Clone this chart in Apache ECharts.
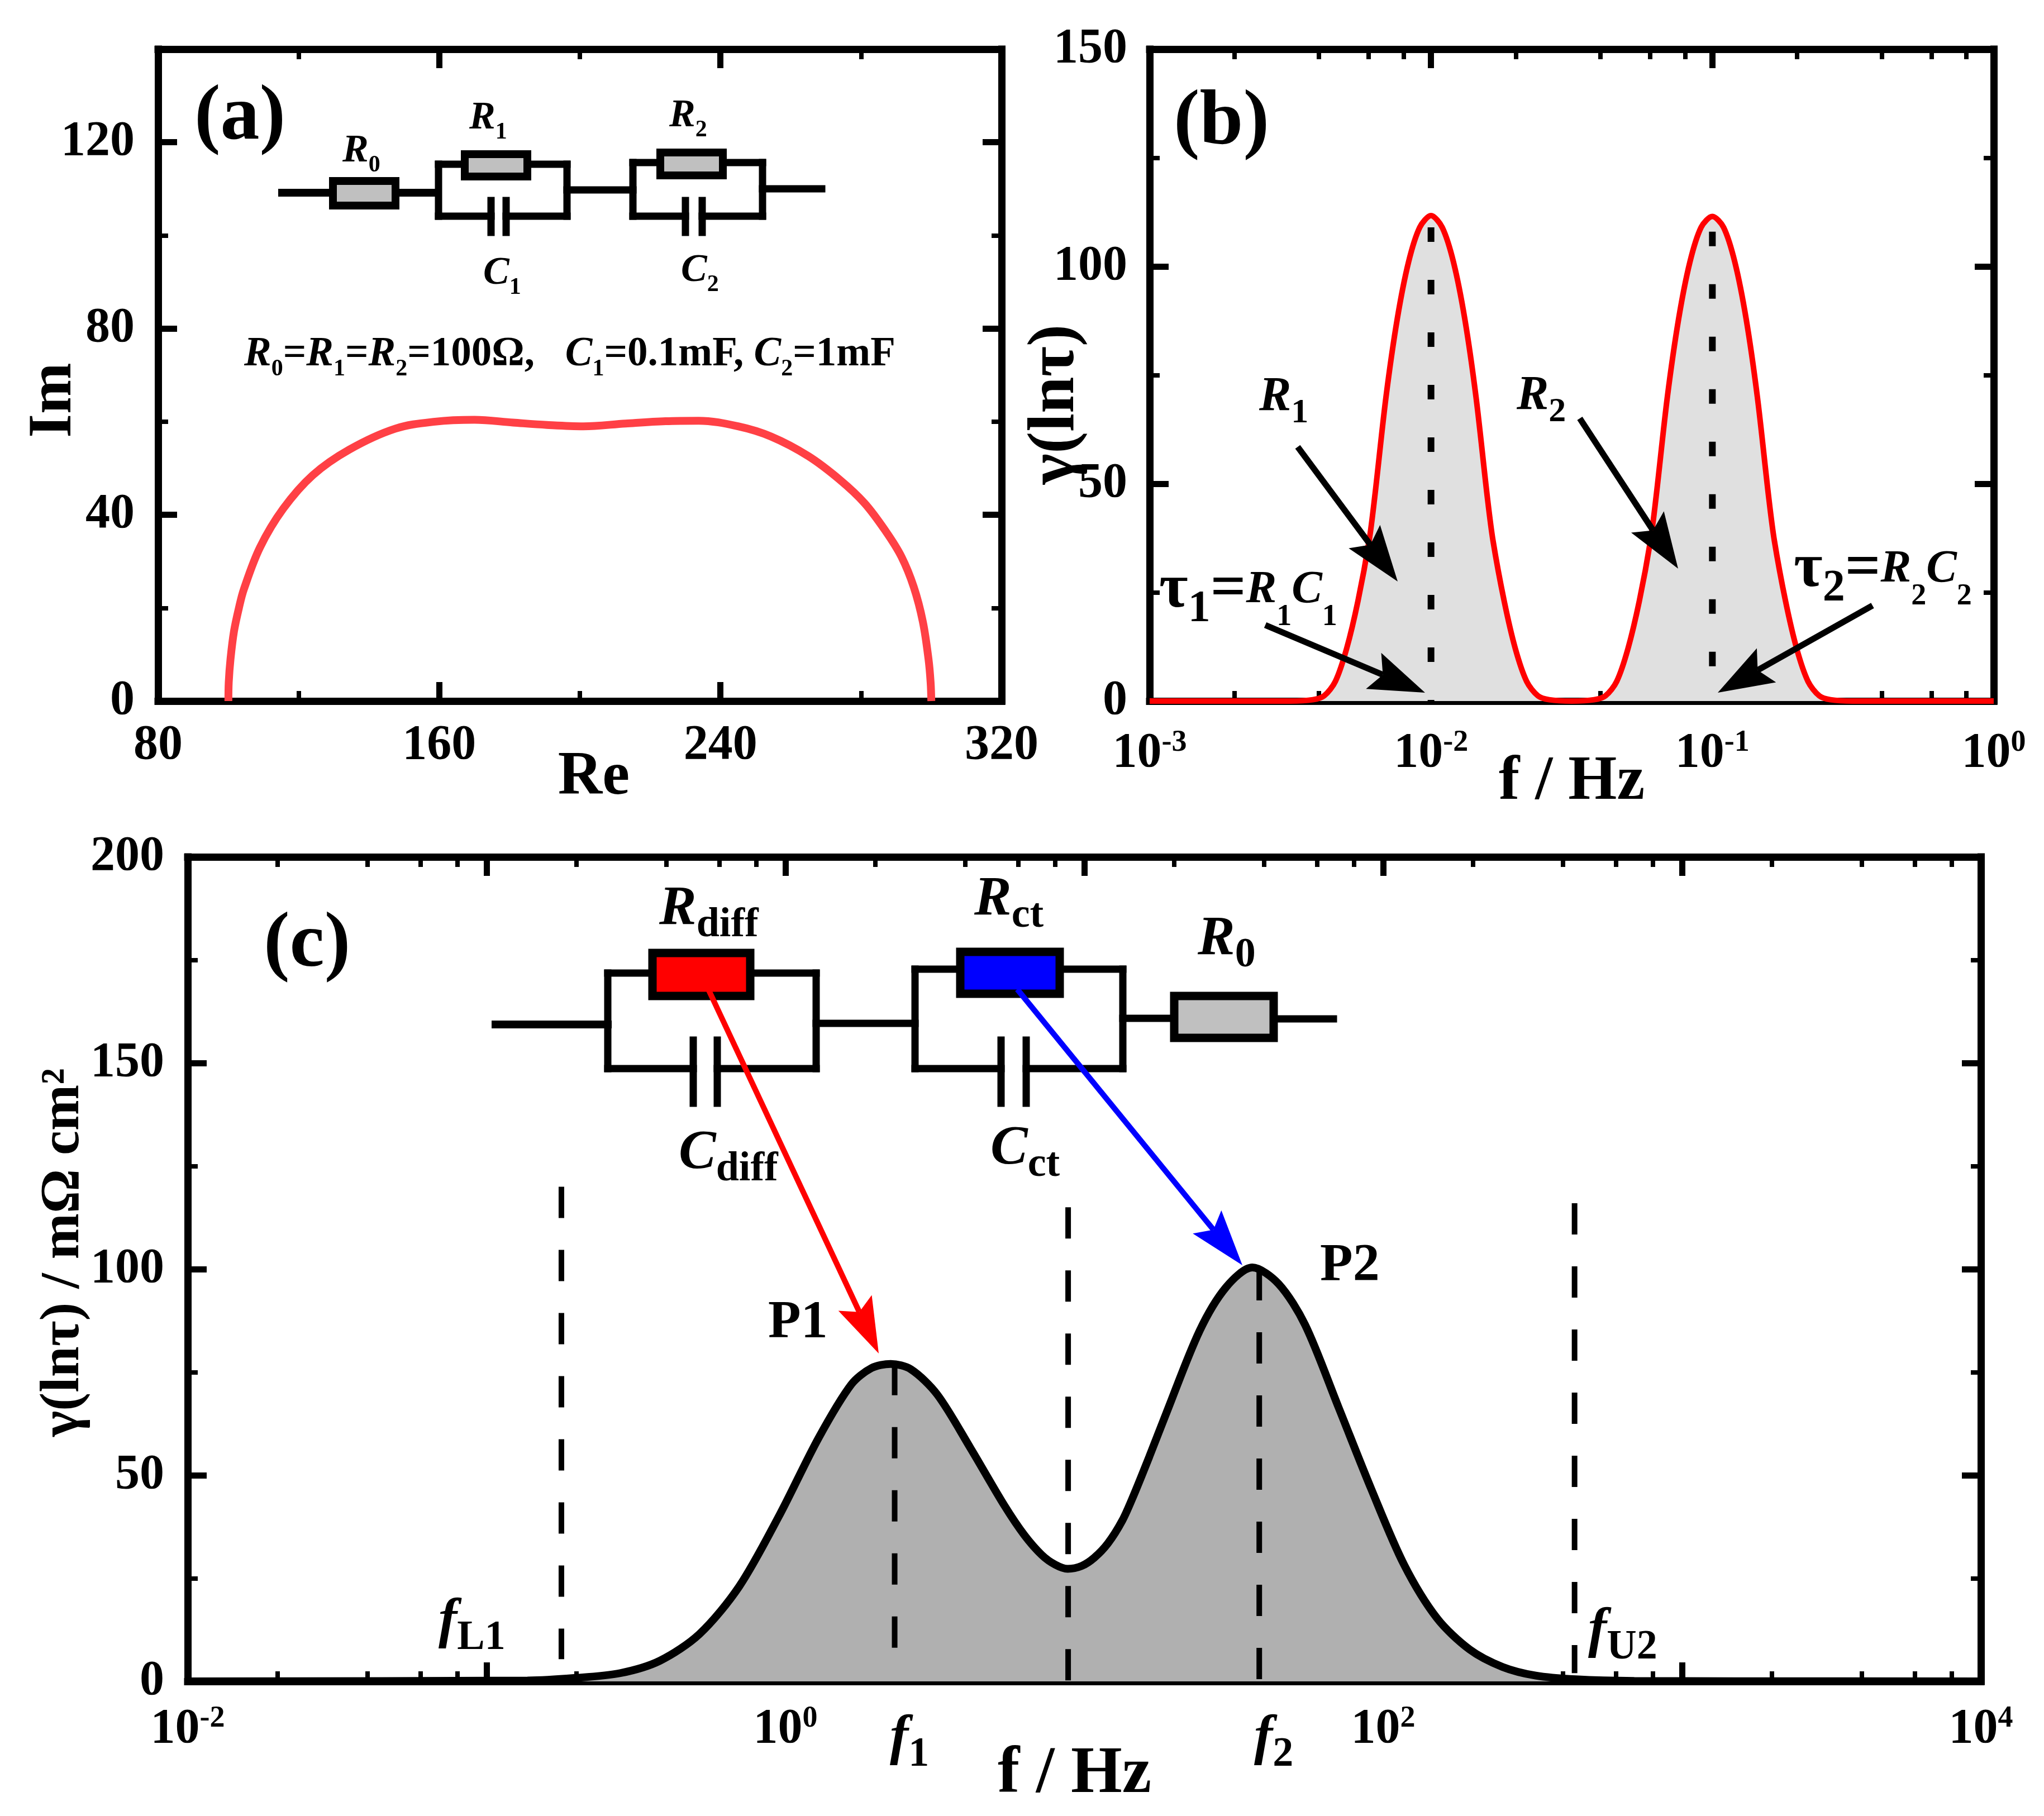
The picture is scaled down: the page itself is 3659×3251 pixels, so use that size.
<!DOCTYPE html>
<html><head><meta charset="utf-8">
<style>html,body{margin:0;padding:0;background:#fff}#c{width:3659px;height:3251px}</style>
<script src="https://cdn.jsdelivr.net/npm/echarts@6/dist/echarts.min.js"></script>
</head><body><div id="c"></div>
<script>
// ---- panel (a) Nyquist
const reA=[100,100.1,100.6,101.6,103,104.4,109,115.6,124,134.4,147.5,158.8,170,181,190.6,201,213,224.4,233.8,245,254.4,265,274,281,287,291.5,295,297.6,299.2,299.8,300];
const imA=[0,4,9,15,20,24,33,41.3,48.5,54,58.5,60,60.4,59.8,59.3,59,59.6,60.1,60.2,59,56.8,52.6,47.5,42.5,36.5,31,24.5,17,9,4,0];
// ---- panel (b) DRT of ideal circuit
const fB=[0.001,0.00316,0.0038,0.00417,0.00457,0.00501,0.0055,0.00603,0.00631,0.00692,0.00759,0.00832,0.00912,0.01,0.01096,0.01202,0.01318,0.01445,0.01585,0.0166,0.0182,0.01995,0.02188,0.02399,0.0263,0.03162,0.038,0.0417,0.0457,0.0501,0.055,0.0603,0.0631,0.0692,0.0759,0.0832,0.0912,0.1,0.1096,0.1202,0.1318,0.1445,0.1585,0.166,0.182,0.1995,0.2188,0.2399,0.263,0.3162,1];
const gB=[0,0,0.3,1.2,4.5,12,23,37,47,70,88,101,109,111.7,109,101,88,70,47,37,23,12,4.5,1.2,0.3,0,0.3,1.2,4.5,12,23,37,47,70,88,101,109,111.5,109,101,88,70,47,37,23,12,4.5,1.2,0.3,0,0];
const markF_B=[0.01,0.1];
const markTop_B=[109,108];
// ---- panel (c) DRT of cell
const fC=[0.01,0.137,0.196,0.28,0.38,0.516,0.70,0.95,1.29,1.66,1.94,2.25,2.63,3.22,4.16,5.4,6.3,7.2,8,8.8,9.8,10.8,12,13.4,14.6,16.5,18.8,24.3,29.8,36.5,44.7,54.8,70.8,91.2,117.5,151.5,195,251,324,441,692,1500,10000];
const gC=[0,0.2,0.8,2,5,11.5,23,40,59,72,76,77,75.7,69.6,56.6,42.7,35.5,30.7,28.3,27.3,28,30,33.5,39,45,54.5,65,85,95.6,100.4,96.4,86.5,66.6,46.7,28.3,15.3,7.7,3.5,1.4,0.5,0.1,0.05,0];
const markF_C=[0.178,2.32,8.83,38.5,437];
const markTop_C=[120,77,115,100,116];
const markBot_C=[5.4,2,0,0,2];
// ---- tick labels
const ticksAx=[80,160,240,320], minorAx=[120,200,280];
const ticksAy=[0,40,80,120], minorAy=[20,60,100];
const ticksBx=[0.001,0.01,0.1,1], ticksBy=[0,50,100,150], minorBy=[25,75,125];
const labelsCx=[0.01,1,100,10000], ticksCx=[0.01,0.1,1,10,100,1000,10000];
const ticksCy=[0,50,100,150,200], minorCy=[25,75,125,175];
function logMinors(a,b){const o=[];for(let e=a;e<b;e++)for(const m of [2,4,6,8])o.push(m*Math.pow(10,e));return o;}

const F='"Liberation Serif"', LW=13, MAJ=34, MIN=18, black='#000';
function axisSet(dim,gridIndex,opt){
  const [lo,hi]=dim==='x'?['bottom','top']:['left','right'];
  const base=(pos,vals,len,line,label)=>({
    type:opt.type,gridIndex,position:pos,min:opt.min,max:opt.max,
    splitLine:{show:false},
    axisLine:{show:line,onZero:false,lineStyle:{color:black,width:LW,cap:'square'}},
    axisTick:{show:true,inside:true,length:len,customValues:vals,lineStyle:{color:black,width:len===MAJ?11:8}},
    axisLabel:label?Object.assign({show:true,customValues:opt.labels||vals,fontFamily:F,fontWeight:'bold',fontSize:88,color:black,hideOverlap:false,showMinLabel:true,showMaxLabel:true},opt.labelOpt||{}):{show:false},
    ...(label&&opt.name?{name:opt.name,nameLocation:'middle',nameGap:opt.nameGap,nameMoveOverlap:false,nameRotate:dim==='y'?90:0,nameTextStyle:{fontFamily:F,fontWeight:'bold',fontSize:opt.nameSize||110,color:black,padding:opt.namePadding||0}}:{})
  });
  return [base(lo,opt.major,MAJ,true,true),base(hi,opt.major,MAJ,true,false),base(lo,opt.minor,MIN,false,false),base(hi,opt.minor,MIN,false,false)];
}
const logLabel={
  formatter:v=>'{b|10}{s|'+Math.round(Math.log10(v))+'}',
  rich:{b:{fontFamily:F,fontWeight:'bold',fontSize:88,lineHeight:90,color:black,verticalAlign:'bottom'},
        s:{fontFamily:F,fontWeight:'bold',fontSize:54,lineHeight:60,color:black,verticalAlign:'top'}}
};
const yPad={padding:[10,0,0,0]};
const xAxis=[
 ...axisSet('x',0,{type:'value',min:80,max:320,major:ticksAx,minor:minorAx,name:'Re',nameGap:83,namePadding:[0,0,0,50],labelOpt:{margin:36}}),
 ...axisSet('x',1,{type:'log',min:0.001,max:1,major:ticksBx,minor:logMinors(-3,0),name:'f / Hz',nameSize:112,nameGap:90,labelOpt:Object.assign({margin:48},logLabel)}),
 ...axisSet('x',2,{type:'log',min:0.01,max:10000,major:ticksCx,labels:labelsCx,minor:logMinors(-2,4),name:'f / Hz',nameSize:118,nameGap:109,namePadding:[0,35,0,0],labelOpt:Object.assign({margin:40},logLabel)})
];
const yAxis=[
 ...axisSet('y',0,{type:'value',min:0,max:140,major:ticksAy,minor:minorAy,name:'Im',nameGap:130,namePadding:[0,90,0,0],labelOpt:Object.assign({margin:42},yPad)}),
 ...axisSet('y',1,{type:'value',min:0,max:150,major:ticksBy,minor:minorBy,name:'γ(lnτ)',nameGap:108,nameSize:118,namePadding:[0,105,0,0],labelOpt:Object.assign({margin:40},yPad)}),
 ...axisSet('y',2,{type:'value',min:0,max:200,major:ticksCy,minor:minorCy,name:'γ(lnτ) / mΩ cm²',nameGap:172,nameSize:99,namePadding:[0,0,0,60],labelOpt:Object.assign({margin:42},yPad)})
];
const zip=(a,b)=>a.map((v,i)=>[v,b[i]]);
const series=[
 {type:'line',xAxisIndex:0,yAxisIndex:0,data:zip(reA,imA),showSymbol:false,smooth:0.35,clip:false,lineStyle:{color:'#ff4045',width:14},z:5},
 {type:'line',xAxisIndex:4,yAxisIndex:4,data:zip(fB,gB),showSymbol:false,smooth:0.3,clip:false,lineStyle:{color:'#ff0000',width:10},areaStyle:{color:'#e0e0e0',opacity:1},z:5},
 {type:'line',xAxisIndex:8,yAxisIndex:8,data:zip(fC,gC),showSymbol:false,smooth:0.3,clip:false,lineStyle:{color:'#000',width:14},areaStyle:{color:'#b0b0b0',opacity:1},z:5}
];
markF_B.forEach((f,i)=>series.push({type:'line',xAxisIndex:4,yAxisIndex:4,data:[[f,markTop_B[i]],[f,0]],showSymbol:false,lineStyle:{color:'#000',width:12,type:[26,68]},z:6}));
markF_C.forEach((f,i)=>series.push({type:'line',xAxisIndex:8,yAxisIndex:8,data:[[f,markTop_C[i]],[f,markBot_C[i]]],showSymbol:false,lineStyle:{color:'#000',width:10,type:[56,57]},z:6}));

// ---- annotation drawing (schematics, arrows, labels)
const G=[];
const line=(x1,y1,x2,y2,w,c)=>G.push({type:'line',z:20,shape:{x1,y1,x2,y2},style:{stroke:c||'#000',lineWidth:w||11,lineCap:'square'}});
const rect=(x1,y1,x2,y2,fill,w)=>G.push({type:'rect',z:21,shape:{x:x1,y:y1,width:x2-x1,height:y2-y1},style:{fill,stroke:'#000',lineWidth:w||11}});
function arrow(x1,y1,x2,y2,c,w,hl,hw){
  const d=Math.hypot(x2-x1,y2-y1),ux=(x2-x1)/d,uy=(y2-y1)/d,nx=-uy,ny=ux;
  const bx=x2-ux*hl,by=y2-uy*hl,nt=x2-ux*hl*0.82,ntY=y2-uy*hl*0.82;
  G.push({type:'line',z:22,shape:{x1,y1,x2:nt,y2:ntY},style:{stroke:c,lineWidth:w}});
  G.push({type:'polygon',z:22,shape:{points:[[x2,y2],[bx+nx*hw/2,by+ny*hw/2],[nt,ntY],[bx-nx*hw/2,by-ny*hw/2]]},style:{fill:c}});
}
function loop(l,r,t,b,p1,p2,py1,py2,w){
  line(l,t,l,b,w);line(r,t,r,b,w);line(l,t,r,t,w);line(l,b,p1,b,w);line(p2,b,r,b,w);
  line(p1,py1,p1,py2,w);line(p2,py1,p2,py2,w);
}
function T(x,base,text,size,styles){
  const rich={};
  for(const k in styles){const s=styles[k];
    rich[k]={fontFamily:F,fontWeight:'bold',fontStyle:s.i?'italic':'normal',fontSize:s.size,lineHeight:s.lh||s.size,verticalAlign:s.va||'middle',fill:'#000',color:'#000'};}
  G.push({type:'text',z:30,style:{text,x,y:base-0.27*size,align:'left',verticalAlign:'middle',rich,fill:'#000',font:'bold '+size+'px '+F}});
}
const st=(m,s,L)=>({i:{i:1,size:m,lh:L},n:{size:m,lh:L},s:{size:s,va:'bottom'}});
// panel labels
[['(a)',348,250],['(b)',2101,259],['(c)',472,1731]].forEach(([t,x,y])=>T(x,y,'{n|'+t+'}',140,{n:{size:140}}));
// panel (a) circuit
line(505,345,781,345,14);rect(596,324,708,368,'#c0c0c0',14);
loop(785,1015,294,387,879,906,359,416,13);rect(832,276,944,316,'#c0c0c0',14);
line(1015,340,1133,340,13);
loop(1133,1365,291,387,1227,1257,359,416,13);rect(1182,273,1294,314,'#c0c0c0',14);
line(1365,338,1471,338,13);
const a=st(70,42,92);
T(613,290,'{i|R}{s|0}',70,a);T(840,231,'{i|R}{s|1}',70,a);T(1198,227,'{i|R}{s|2}',70,a);
T(865,509,'{i|C}{s|1}',70,a);T(1219,504,'{i|C}{s|2}',70,a);
T(437,655,'{i|R}{s|0}{n|=}{i|R}{s|1}{n|=}{i|R}{s|2}{n|=100Ω,   }{i|C}{s|1}{n|=0.1mF, }{i|C}{s|2}{n|=1mF}',73,st(73,42,94));
// panel (b) labels and arrows
const b=st(86,62,118);
T(2254,735,'{i|R}{s|1}',86,b);T(2715,733,'{i|R}{s|2}',86,b);
const tau={n:{size:112,lh:150},s:{size:80,va:'bottom'},i:{i:1,size:82,lh:150},t:{size:54,va:'bottom'}};
T(2075,1087,'{n|τ}{s|1}{n|=}{i|R}{t|1}{i|C}{t|1}',112,tau);
T(3211,1050,'{n|τ}{s|2}{n|=}{i|R}{t|2}{i|C}{t|2}',112,tau);
arrow(2323,800,2502,1041,'#000',11,100,70);
arrow(2828,749,3004,1018,'#000',11,100,70);
arrow(2265,1119,2551,1240,'#000',11,100,70);
arrow(3352,1084,3075,1240,'#000',11,100,70);
// panel (c) circuit
line(887,1834,1088,1834,14);
loop(1088,1461,1742,1913,1241,1284,1862,1975,13);rect(1168,1706,1343,1783,'#ff0000',15);
line(1461,1832,1638,1832,13);
loop(1638,2010,1735,1913,1792,1837,1862,1975,13);rect(1719,1704,1897,1779,'#0000ff',15);
line(2010,1823,2102,1823,13);rect(2102,1783,2280,1858,'#c0c0c0',15);line(2280,1824,2387,1824,13);
arrow(1268,1771,1573,2423,'#ff0000',10,100,66);
arrow(1821,1771,2224,2265,'#0000ff',10,100,66);
const c=st(100,74,132);
T(1180,1655,'{i|R}{s|diff}',100,c);T(1744,1638,'{i|R}{s|ct}',100,c);T(2144,1709,'{i|R}{s|0}',100,c);
T(1215,2092,'{i|C}{s|diff}',100,c);T(1773,2084,'{i|C}{s|ct}',100,c);
T(1375,2395,'{n|P1}',96,{n:{size:96}});T(2363,2293,'{n|P2}',96,{n:{size:96}});
T(785,2931,'{i|f}{s|L1}',100,c);T(1593,3140,'{i|f}{s|1}',100,c);T(2245,3140,'{i|f}{s|2}',100,c);T(2843,2948,'{i|f}{s|U2}',100,c);

const chart=echarts.init(document.getElementById('c'),null,{renderer:'canvas'});
chart.setOption({
  animation:false,backgroundColor:'#fff',
  grid:[
    {left:283,top:88,width:1510,height:1167,outerBoundsMode:'none'},
    {left:2058,top:88,width:1511,height:1167,outerBoundsMode:'none'},
    {left:336,top:1534,width:3210,height:1476,outerBoundsMode:'none'}
  ],
  xAxis,yAxis,series,graphic:{elements:G}
});
</script></body></html>
